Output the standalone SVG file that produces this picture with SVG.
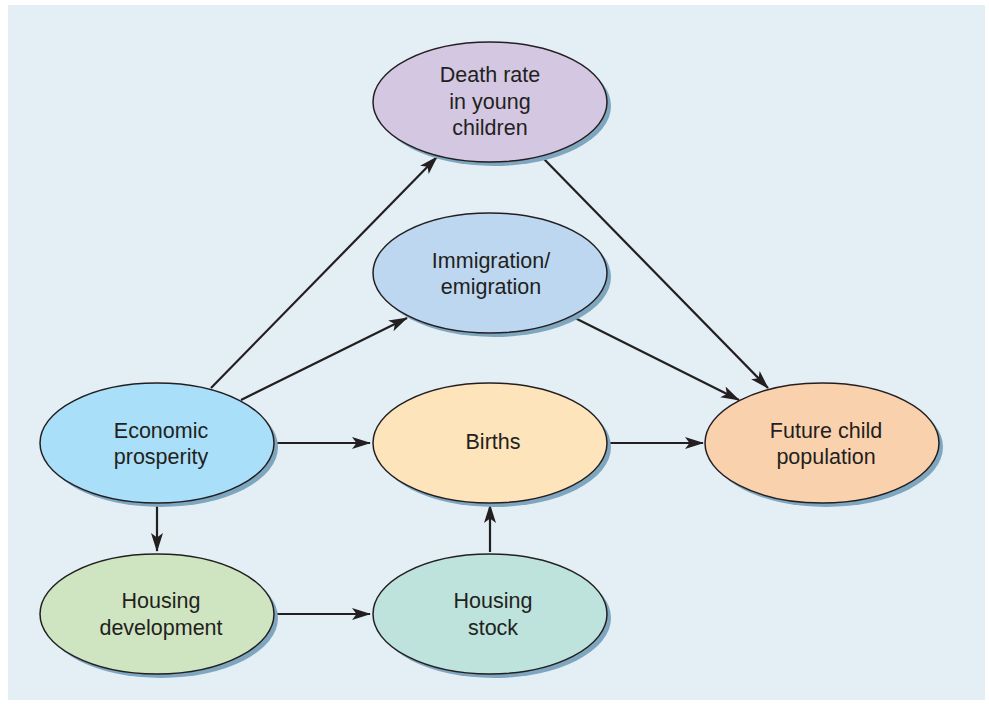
<svg xmlns="http://www.w3.org/2000/svg" width="989" height="704" viewBox="0 0 989 704">
<defs>
<marker id="ah" markerWidth="20" markerHeight="14" refX="18" refY="7" orient="auto" markerUnits="userSpaceOnUse">
<path d="M0,1 L19,7 L0,13 L4.5,7 z" fill="#231f20"/>
</marker>
<style>
.sh{fill:#7fa6bf}
.el{stroke:#231f20;stroke-width:1.5}
.t{font-family:"Liberation Sans",Arial,sans-serif;font-size:21.5px;fill:#231f20;text-anchor:middle}
.c{stroke:#231f20;stroke-width:2.2;fill:none;marker-end:url(#ah)}
</style>
</defs>
<rect x="0" y="0" width="989" height="704" fill="#ffffff"/>
<rect x="8" y="5" width="977" height="695" fill="#e3eef5"/>
<g id="connectors">
<line class="c" x1="211" y1="388" x2="437" y2="157"/>
<line class="c" x1="241" y1="400" x2="407" y2="318"/>
<line class="c" x1="274" y1="443" x2="370" y2="443"/>
<line class="c" x1="157" y1="505" x2="157" y2="551"/>
<line class="c" x1="274" y1="614" x2="370" y2="614"/>
<line class="c" x1="490" y1="552" x2="490" y2="505"/>
<line class="c" x1="609" y1="443" x2="703" y2="443"/>
<line class="c" x1="575" y1="318" x2="739" y2="400"/>
<line class="c" x1="543" y1="158" x2="768" y2="388"/>
</g>
<g id="death">
<ellipse class="sh" cx="494" cy="106" rx="117" ry="60"/>
<ellipse class="el" cx="490" cy="102" rx="117" ry="60" fill="#d4c7e2"/>
<text class="t" x="490" y="82">Death rate</text>
<text class="t" x="490" y="109">in young</text>
<text class="t" x="490" y="135">children</text>
</g>
<g id="immigration">
<ellipse class="sh" cx="494" cy="277" rx="117" ry="60"/>
<ellipse class="el" cx="490" cy="273" rx="117" ry="60" fill="#bcd7ef"/>
<text class="t" x="491" y="268">Immigration/</text>
<text class="t" x="491" y="294">emigration</text>
</g>
<g id="births">
<ellipse class="sh" cx="494" cy="447" rx="117" ry="60"/>
<ellipse class="el" cx="490" cy="443" rx="117" ry="60" fill="#fde4ba"/>
<text class="t" x="493" y="449">Births</text>
</g>
<g id="economic">
<ellipse class="sh" cx="161" cy="447" rx="117" ry="60"/>
<ellipse class="el" cx="157" cy="443" rx="117" ry="60" fill="#a9dff8"/>
<text class="t" x="161" y="438">Economic</text>
<text class="t" x="161" y="464">prosperity</text>
</g>
<g id="future">
<ellipse class="sh" cx="826" cy="447" rx="117" ry="60"/>
<ellipse class="el" cx="822" cy="443" rx="117" ry="60" fill="#fad1ad"/>
<text class="t" x="826" y="438">Future child</text>
<text class="t" x="826" y="464">population</text>
</g>
<g id="housingdev">
<ellipse class="sh" cx="161" cy="618" rx="117" ry="60"/>
<ellipse class="el" cx="157" cy="614" rx="117" ry="60" fill="#cfe5c1"/>
<text class="t" x="161" y="608">Housing</text>
<text class="t" x="161" y="635">development</text>
</g>
<g id="housingstock">
<ellipse class="sh" cx="494" cy="618" rx="117" ry="60"/>
<ellipse class="el" cx="490" cy="614" rx="117" ry="60" fill="#bde3dc"/>
<text class="t" x="493" y="608">Housing</text>
<text class="t" x="493" y="635">stock</text>
</g>
</svg>
